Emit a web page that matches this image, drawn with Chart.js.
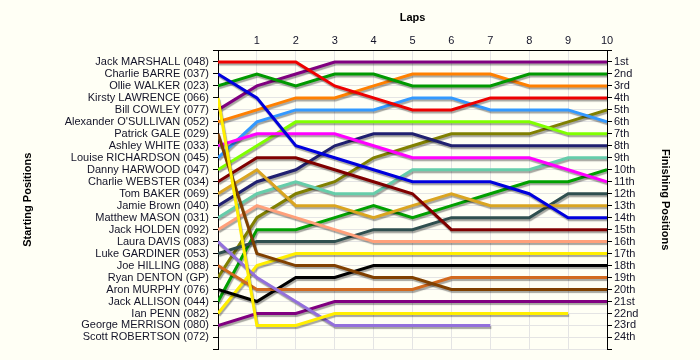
<!DOCTYPE html>
<html>
<head>
<meta charset="utf-8">
<script src="https://cdn.jsdelivr.net/npm/chart.js@4/dist/chart.umd.min.js"></script>
<style>
  body { margin: 0; background: #fffff5; }
  canvas { display: block; }
</style>
</head>
<body>
<canvas id="lapChart" width="700" height="360"></canvas>
<script>
// laps on the top axis
const laps = [0, 1, 2, 3, 4, 5, 6, 7, 8, 9, 10];

// drivers in starting order (left axis labels)
const drivers = [
  'Jack MARSHALL (048)', 'Charlie BARRE (037)', 'Ollie WALKER (023)', 'Kirsty LAWRENCE (066)',
  'Bill COWLEY (077)', "Alexander O'SULLIVAN (052)", 'Patrick GALE (029)', 'Ashley WHITE (033)',
  'Louise RICHARDSON (045)', 'Danny HARWOOD (047)', 'Charlie WEBSTER (034)', 'Tom BAKER (069)',
  'Jamie Brown (040)', 'Matthew MASON (031)', 'Jack HOLDEN (092)', 'Laura DAVIS (083)',
  'Luke GARDINER (053)', 'Joe HILLING (088)', 'Ryan DENTON (GP)', 'Aron MURPHY (076)',
  'Jack ALLISON (044)', 'Ian PENN (082)', 'George MERRISON (080)', 'Scott ROBERTSON (072)'
];

// right axis labels
const finishLabels = [
  '1st', '2nd', '3rd', '4th', '5th', '6th', '7th', '8th', '9th', '10th', '11th', '12th',
  '13th', '14th', '15th', '16th', '17th', '18th', '19th', '20th', '21st', '22nd', '23rd', '24th'
];

// position of each driver at laps 0..10 (null = retired)
const positions = [
  [1, 1, 1, 3, 4, 5, 5, 4, 4, 4, 4],
  [2, 4, 8, 9, 10, 11, 11, 11, 12, 14, 14],
  [3, 2, 3, 2, 2, 3, 3, 3, 2, 2, 2],
  [4, 23, 23, 22, 22, 22, 22, 22, 22, 22, null],
  [5, 3, 2, 1, 1, 1, 1, 1, 1, 1, 1],
  [6, 5, 4, 4, 3, 2, 2, 2, 3, 3, 3],
  [7, 17, 18, 18, 19, 19, 20, 20, 20, 20, 20],
  [8, 7, 7, 7, 8, 9, 9, 9, 9, 10, 11],
  [9, 6, 5, 5, 5, 4, 4, 5, 5, 5, 6],
  [10, 8, 6, 6, 6, 6, 6, 6, 6, 7, 7],
  [11, 9, 9, 10, 11, 12, 15, 15, 15, 15, 15],
  [12, 10, 13, 13, 14, 13, 12, 13, 13, 13, 13],
  [13, 11, 10, 8, 7, 7, 8, 8, 8, 8, 8],
  [14, 12, 11, 12, 12, 10, 10, 10, 10, 9, 9],
  [15, 13, 14, 15, 16, 16, 16, 16, 16, 16, 16],
  [16, 19, 21, 23, 23, 23, 23, 23, null, null, null],
  [17, 16, 16, 16, 15, 15, 14, 14, 14, 12, 12],
  [18, 20, 20, 20, 20, 20, 19, 19, 19, 19, 19],
  [19, 14, 12, 11, 9, 8, 7, 7, 7, 6, 5],
  [20, 21, 19, 19, 18, 18, 18, 18, 18, 18, 18],
  [21, 15, 15, 14, 13, 14, 13, 12, 11, 11, 10],
  [22, 18, 17, 17, 17, 17, 17, 17, 17, 17, 17],
  [23, 22, 22, 21, 21, 21, 21, 21, 21, 21, 21],
  [24, null, null, null, null, null, null, null, null, null, null]
];

const lineColors = [
  '#ee0000', '#0000dd', '#009900', '#ffee00', '#800080', '#ff8000', '#804000', '#ff00ff',
  '#3399ff', '#80ff00', '#800000', '#daa520', '#202070', '#66cdaa', '#ffa07a', '#9370db',
  '#2f4f4f', '#d2691e', '#808000', '#000000', '#00a000', '#ffee00', '#800080', '#999999'
];

const txt = '#141428';
const baseFont = { family: 'Liberation Sans, Arial, sans-serif', size: 11 };
const boldFont = { family: 'Liberation Sans, Arial, sans-serif', size: 11, weight: 'bold' };

// drop shadow under the lines
const shadowPlugin = {
  id: 'lineShadow',
  beforeDatasetsDraw(chart) {
    const c = chart.ctx;
    c.save();
    c.shadowColor = 'rgba(0,0,0,0.35)';
    c.shadowOffsetX = 1;
    c.shadowOffsetY = 2;
    c.shadowBlur = 1;
  },
  afterDatasetsDraw(chart) {
    chart.ctx.restore();
  }
};

const datasets = drivers.map((name, i) => ({
  label: name,
  data: positions[i],
  borderColor: lineColors[i],
  backgroundColor: lineColors[i],
  borderWidth: 3,
  pointRadius: 0,
  pointHoverRadius: 0,
  tension: 0,
  fill: false,
  spanGaps: false,
  yAxisID: 'y'
}));

new Chart(document.getElementById('lapChart'), {
  type: 'line',
  data: { labels: laps, datasets: datasets },
  plugins: [shadowPlugin],
  options: {
    responsive: false,
    animation: false,
    layout: { padding: 0 },
    plugins: {
      legend: { display: false },
      tooltip: { enabled: false }
    },
    scales: {
      x: {
        type: 'linear',
        position: 'top',
        min: 0,
        max: 10,
        afterFit: s => { s.height = 50; },
        ticks: {
          stepSize: 1,
          padding: 2,
          color: txt,
          font: baseFont,
          callback: v => (v === 0 ? '' : v)
        },
        grid: { color: '#e4e4e4', drawTicks: false },
        border: { color: '#000', width: 1 },
        title: { display: true, text: 'Laps', color: '#000', font: boldFont, padding: { top: 11, bottom: 0 } }
      },
      y: {
        position: 'left',
        reverse: true,
        min: 0,
        max: 25,
        afterFit: s => { s.width = 218; },
        ticks: {
          stepSize: 1,
          autoSkip: false,
          padding: 4,
          color: txt,
          font: baseFont,
          callback: v => drivers[v - 1] || ''
        },
        grid: { color: '#e4e4e4', tickColor: '#000', tickLength: 5 },
        border: { color: '#000', width: 1 },
        title: { display: true, text: 'Starting Positions', color: '#000', font: boldFont, padding: { top: 21, bottom: 0 } }
      },
      y2: {
        position: 'right',
        reverse: true,
        min: 0,
        max: 25,
        afterFit: s => { s.width = 93; },
        ticks: {
          stepSize: 1,
          autoSkip: false,
          padding: 2,
          color: txt,
          font: baseFont,
          callback: v => finishLabels[v - 1] || ''
        },
        grid: { drawOnChartArea: false, tickColor: '#000', tickLength: 5 },
        border: { color: '#000', width: 1 },
        title: { display: true, text: 'Finishing Positions', color: '#000', font: boldFont, padding: { top: 28, bottom: 0 } }
      }
    }
  }
});
</script>
</body>
</html>
